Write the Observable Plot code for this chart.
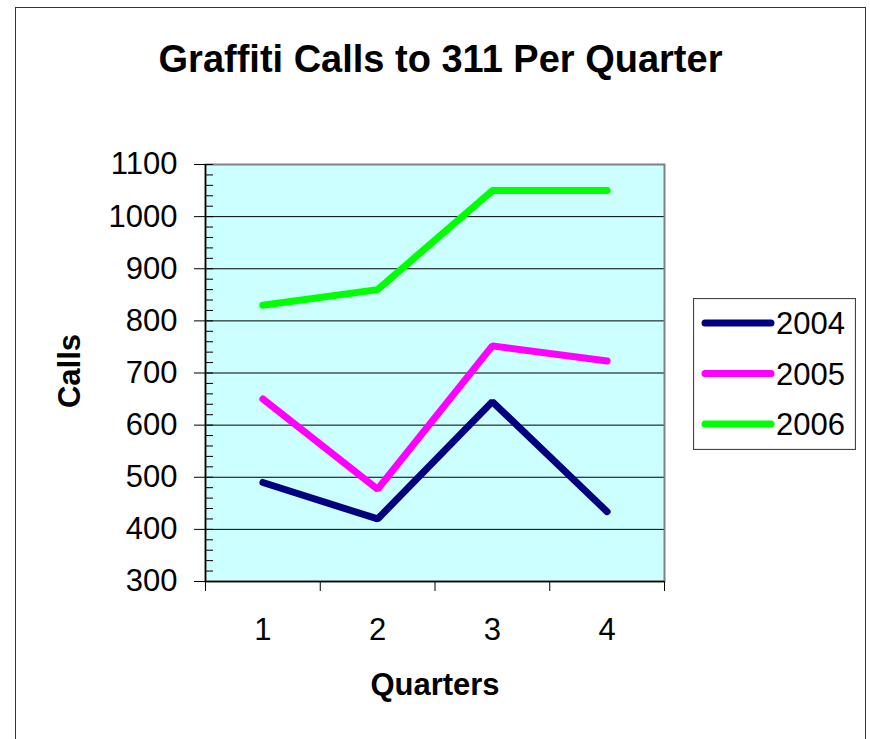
<!DOCTYPE html>
<html>
<head>
<meta charset="utf-8">
<script src="https://cdn.jsdelivr.net/npm/d3@7"></script>
<script src="https://cdn.jsdelivr.net/npm/@observablehq/plot@0.6"></script>
<style>
  html, body { margin: 0; padding: 0; background: #fff; overflow: hidden; }
  #wrap { position: relative; width: 870px; height: 739px; overflow: hidden; font-family: "Liberation Sans", Arial, sans-serif; }
  #border { position: absolute; left: 15px; top: 7px; width: 849px; height: 760px; border: 1.5px solid #333; }
  #title { position: absolute; left: 15px; width: 851px; top: 40px; text-align: center; font-size: 38px; line-height: 1; font-weight: bold; color: #000; white-space: nowrap; }
  #chart { position: absolute; left: 0; top: 0; }
  #legend { position: absolute; left: 693px; top: 298px; }
</style>
</head>
<body>
<div id="wrap">
  <div id="border"></div>
  <div id="title">Graffiti Calls to 311 Per Quarter</div>
  <div id="chart"></div>
  <div id="legend"></div>
</div>
<script>
// ---- data ----
const quarters = [1, 2, 3, 4];
const years = ["2004", "2005", "2006"];
const calls2004 = [490, 420, 645, 434];
const calls2005 = [650, 477, 752, 723];
const calls2006 = [830, 860, 1050, 1050];
const yTicks = [300, 400, 500, 600, 700, 800, 900, 1000, 1100];
const xLabels = ["1", "2", "3", "4"];
const colors = ["#000080", "#FF00FF", "#00FF00"];

const series = [calls2004, calls2005, calls2006];
const rows = [];
years.forEach((yr, i) => quarters.forEach((q, j) => rows.push({year: yr, quarter: q, calls: series[i][j]})));

const gridValues = yTicks.filter(v => v > 300 && v < 1100);
const minorTicks = d3.range(300, 1101, 20);
const boundaries = quarters.map(q => q - 0.5).concat([quarters[quarters.length - 1] + 0.5]);

const W = 870, H = 739;
const mL = 205, mR = 206, mT = 164, mB = 158;
const frameW = W - mL - mR;
const FS = 31;

const chart = Plot.plot({
  width: W,
  height: H,
  marginLeft: mL,
  marginRight: mR,
  marginTop: mT,
  marginBottom: mB,
  style: {fontFamily: '"Liberation Sans", Arial, sans-serif', fontSize: FS + "px", color: "#000", background: "transparent"},
  x: {type: "linear", domain: [0.5, 4.5]},
  y: {type: "linear", domain: [300, 1100]},
  color: {domain: years, range: colors},
  marks: [
    Plot.frame({fill: "#CCFFFF"}),
    Plot.ruleY(gridValues, {stroke: "#000", strokeWidth: 1}),
    Plot.frame({stroke: "#808080", strokeWidth: 2}),
    Plot.ruleY(minorTicks, {stroke: "#000", strokeWidth: 1, insetRight: frameW - 8}),
    Plot.ruleX([0.5], {stroke: "#000", strokeWidth: 1.5}),
    Plot.ruleY([300], {stroke: "#000", strokeWidth: 1.5}),
    Plot.axisY(yTicks, {tickSize: 11, tickPadding: 17, fontSize: FS, label: null, tickFormat: d => String(d)}),
    Plot.axisX(boundaries, {tickSize: 10, tickFormat: () => "", label: null}),
    Plot.axisX(quarters, {tickSize: 0, tickPadding: 36, fontSize: FS, label: null, tickFormat: (d, i) => xLabels[i]}),
    Plot.line(rows, {x: "quarter", y: "calls", stroke: "year", z: "year", strokeWidth: 7, strokeLinecap: "round", strokeLinejoin: "miter"}),
    Plot.text(["Calls"], {text: d => d, frameAnchor: "left", dx: -135, dy: -2, rotate: -90, textAnchor: "middle", lineAnchor: "middle", fontSize: FS, fontWeight: "bold"}),
    Plot.text(["Quarters"], {text: d => d, frameAnchor: "bottom", dy: 104, textAnchor: "middle", lineAnchor: "middle", fontSize: FS, fontWeight: "bold"})
  ]
});
document.getElementById("chart").appendChild(chart);

// ---- legend ----
const lw = 163, lh = 152;
const ns = "http://www.w3.org/2000/svg";
const lsvg = document.createElementNS(ns, "svg");
lsvg.setAttribute("width", lw);
lsvg.setAttribute("height", lh);
const box = document.createElementNS(ns, "rect");
box.setAttribute("x", 0.5); box.setAttribute("y", 0.5);
box.setAttribute("width", lw - 1); box.setAttribute("height", lh - 1);
box.setAttribute("fill", "#fff"); box.setAttribute("stroke", "#444"); box.setAttribute("stroke-width", 1.2);
lsvg.appendChild(box);
years.forEach((yr, i) => {
  const cy = 25 + i * 50.5;
  const ln = document.createElementNS(ns, "line");
  ln.setAttribute("x1", 12); ln.setAttribute("x2", 78);
  ln.setAttribute("y1", cy); ln.setAttribute("y2", cy);
  ln.setAttribute("stroke", colors[i]); ln.setAttribute("stroke-width", 7); ln.setAttribute("stroke-linecap", "round");
  lsvg.appendChild(ln);
  const tx = document.createElementNS(ns, "text");
  tx.setAttribute("x", 83); tx.setAttribute("y", cy + 11.1);
  tx.setAttribute("font-size", FS);
  tx.setAttribute("font-family", '"Liberation Sans", Arial, sans-serif');
  tx.setAttribute("fill", "#000");
  tx.textContent = yr;
  lsvg.appendChild(tx);
});
document.getElementById("legend").appendChild(lsvg);
</script>
</body>
</html>
